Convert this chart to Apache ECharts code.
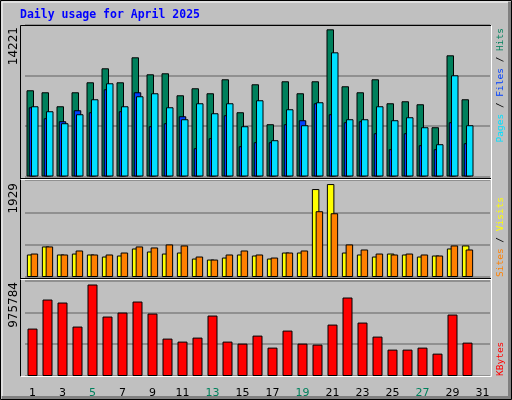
<!DOCTYPE html>
<html>
<head>
<meta charset="utf-8">
<script src="https://cdn.jsdelivr.net/npm/echarts@6/dist/echarts.min.js"></script>
<style>
html, body { margin: 0; padding: 0; background: #c0c0c0; }
#chart { width: 512px; height: 400px; }
</style>
</head>
<body>
<div id="chart"></div>
<script>
// daily stats, April 2025 (day 31 has no data)
var days = [];
for (var d = 1; d <= 31; d++) days.push(String(d));
var weekend = ['5', '6', '12', '13', '19', '20', '26', '27'];

var hits = [8332, 8139, 6788, 8139, 9104, 10455, 9104, 11517, 9876, 9973, 7849, 8525, 8043, 9394, 6209,
  8911, 5051, 9201, 8043, 9201, 14221, 8718, 8139, 9394, 7077, 7270, 6981, 4761, 11710, 7463];
var files = [6691, 5630, 5340, 6402, 6209, 8429, 6305, 8139, 4858, 5147, 5823, 2734, 3700, 5919, 2927,
  3314, 3314, 5051, 5437, 7077, 6016, 5244, 5340, 4182, 2638, 4182, 3024, 2638, 5244, 3217];
var pages = [6788, 6305, 5147, 6016, 7463, 9008, 6788, 7753, 8043, 6691, 5533, 7077, 6112, 7077, 4858,
  7367, 3507, 6498, 4954, 7174, 11999, 5533, 5533, 6788, 5437, 5726, 4761, 3120, 9780, 4954];
var visits = [467, 634, 467, 487, 467, 425, 446, 592, 529, 487, 508, 383, 362, 404, 467,
  446, 383, 508, 508, 1825, 1929, 508, 467, 425, 487, 467, 425, 446, 592, 655];
var sites = [487, 634, 467, 550, 467, 467, 508, 634, 613, 676, 655, 425, 362, 467, 550,
  467, 404, 508, 550, 1365, 1323, 676, 571, 487, 467, 487, 467, 446, 655, 571];
var kbytes = [505700, 815500, 783500, 527100, 975784, 633900, 676600, 794200, 665900, 398900, 366800,
  409500, 644600, 366800, 345400, 430900, 302700, 484300, 345400, 334800, 548400, 836900, 569800,
  420200, 281300, 281300, 302700, 238600, 655300, 356100];

var maxTop = 14639, maxMid = 2013, maxBot = 1018500;

var chart = echarts.init(document.getElementById('chart'));

var bar = function (name, data, color, idx, width, gap) {
  return {
    name: name, type: 'bar', data: data,
    xAxisIndex: idx, yAxisIndex: idx,
    barWidth: width, barGap: gap,
    itemStyle: { color: color, borderColor: '#000', borderWidth: 1 },
    animation: false
  };
};

var yAx = function (idx, max) {
  return {
    gridIndex: idx, type: 'value', min: 0, max: max, interval: max / 3,
    axisLabel: { show: false }, axisLine: { show: false }, axisTick: { show: false },
    splitLine: { lineStyle: { color: '#808080', width: 1.5 } }
  };
};

var xAx = function (idx, labels) {
  return {
    gridIndex: idx, type: 'category', data: days,
    axisLine: { show: false }, axisTick: { show: false },
    axisLabel: {
      show: labels, margin: 12, fontSize: 11, fontFamily: 'DejaVu Sans',
      color: function (v) { return weekend.indexOf(v) >= 0 ? '#00805c' : '#000'; }
    }
  };
};

var sideText = function (x, y, align, rich, parts) {
  return {
    type: 'text', x: x, y: y, rotation: Math.PI / 2,
    style: { text: parts, align: align, verticalAlign: 'middle', rich: rich,
      font: '9.5px "DejaVu Sans Mono"' }
  };
};

var rich = {
  p: { fill: '#00e0ff', font: '9.5px "DejaVu Sans Mono"' },
  f: { fill: '#0040ff', font: '9.5px "DejaVu Sans Mono"' },
  h: { fill: '#00805c', font: '9.5px "DejaVu Sans Mono"' },
  s: { fill: '#ff8000', font: '9.5px "DejaVu Sans Mono"' },
  v: { fill: '#ffff00', font: '9.5px "DejaVu Sans Mono"' },
  k: { fill: '#ff0000', font: '9.5px "DejaVu Sans Mono"' },
  b: { fill: '#000', font: '9.5px "DejaVu Sans Mono"' }
};

var option = {
  backgroundColor: '#c0c0c0',
  grid: [
    { left: 25, width: 465, top: 25, height: 151.5 },
    { left: 25, width: 465, top: 180, height: 97 },
    { left: 25, width: 465, top: 280.5, height: 95.5 }
  ],
  xAxis: [xAx(0, false), xAx(1, false), xAx(2, true)],
  yAxis: [yAx(0, maxTop), yAx(1, maxMid), yAx(2, maxBot)],
  series: [
    bar('Hits', hits, '#00805c', 0, 7.5, '-70%'),
    bar('Files', files, '#0040ff', 0, 7.5, '-70%'),
    bar('Pages', pages, '#00e0ff', 0, 7.5, '-70%'),
    bar('Visits', visits, '#ffff00', 1, 7.5, '-50%'),
    bar('Sites', sites, '#ff8000', 1, 7.5, '-50%'),
    bar('KBytes', kbytes, '#ff0000', 2, 10, '0%')
  ],
  graphic: [
    { type: 'rect', shape: { x: 0.5, y: 0.5, width: 511, height: 399 }, style: { fill: null, stroke: '#000' }, z: 100 },
    { type: 'polyline', shape: { points: [[2, 397.5], [509.5, 397.5], [509.5, 2]] }, style: { stroke: '#808080', lineWidth: 3, fill: null }, z: 100 },
    { type: 'polyline', shape: { points: [[2, 396], [2, 2], [508, 2]] }, style: { stroke: '#fff', lineWidth: 1, fill: null }, z: 100 },
    { type: 'polyline', shape: { points: [[20.5, 376.5], [20.5, 25.5], [491, 25.5]] }, style: { stroke: '#000', fill: null }, z: 100 },
    { type: 'polyline', shape: { points: [[20.5, 376.5], [491.5, 376.5], [491.5, 25.5]] }, style: { stroke: '#fff', fill: null }, z: 100 },
    { type: 'line', shape: { x1: 20.5, y1: 178.5, x2: 491, y2: 178.5 }, style: { stroke: '#000' }, z: 100 },
    { type: 'line', shape: { x1: 20.5, y1: 179.5, x2: 491, y2: 179.5 }, style: { stroke: '#fff' }, z: 100 },
    { type: 'line', shape: { x1: 20.5, y1: 278.5, x2: 491, y2: 278.5 }, style: { stroke: '#000' }, z: 100 },
    { type: 'line', shape: { x1: 20.5, y1: 279.5, x2: 491, y2: 279.5 }, style: { stroke: '#fff' }, z: 100 },
    { type: 'text', x: 20, y: 15, style: { text: 'Daily usage for April 2025', fill: '#0000ff',
      font: 'bold 11.5px "DejaVu Sans Mono"', verticalAlign: 'middle' } },
    { type: 'text', x: 14, y: 27, rotation: Math.PI / 2, style: { text: '14221', align: 'right', verticalAlign: 'middle', fill: '#000', font: '12px "DejaVu Sans"' } },
    { type: 'text', x: 14, y: 183, rotation: Math.PI / 2, style: { text: '1929', align: 'right', verticalAlign: 'middle', fill: '#000', font: '12px "DejaVu Sans"' } },
    { type: 'text', x: 14, y: 282, rotation: Math.PI / 2, style: { text: '975784', align: 'right', verticalAlign: 'middle', fill: '#000', font: '12px "DejaVu Sans"' } },
    sideText(501, 28, 'right', rich, '{p|Pages}{b| / }{f|Files}{b| / }{h|Hits}'),
    sideText(501, 277, 'left', rich, '{s|Sites}{b| / }{v|Visits}'),
    sideText(501, 376, 'left', rich, '{k|KBytes}')
  ]
};
chart.setOption(option);
</script>
</body>
</html>
